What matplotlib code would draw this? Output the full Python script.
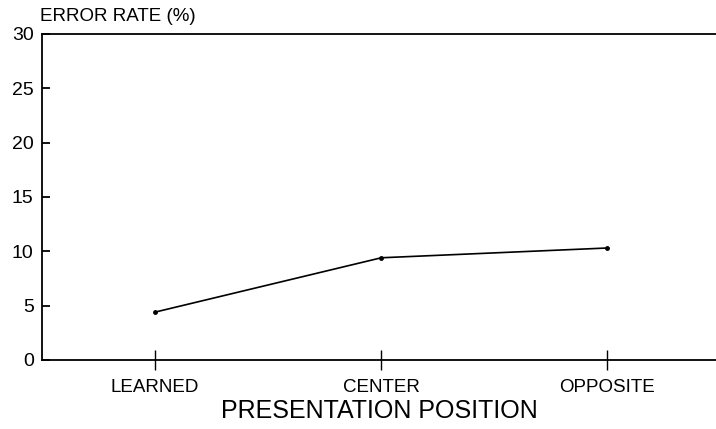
import matplotlib
matplotlib.use('Agg')
import matplotlib.pyplot as plt

# presentation positions and error rates
positions = ['LEARNED', 'CENTER', 'OPPOSITE']
error_rate = [4.4, 9.4, 10.3]
y_ticks = [0, 5, 10, 15, 20, 25, 30]

plt.rcParams['font.family'] = ['Liberation Sans', 'DejaVu Sans']

fig = plt.figure(figsize=(7.16, 4.29), dpi=100)
ax = fig.add_axes([0.0587, 0.161, 0.9413, 0.76])

x = list(range(len(positions)))
ax.plot(x, error_rate, color='black', linewidth=1.2, marker='o', markersize=2.5)

ax.set_xlim(-0.5, 2.48)
ax.set_ylim(0, 30)
ax.set_xticks(x)
ax.set_xticklabels(positions, fontsize=13.5)
ax.set_yticks(y_ticks)
ax.set_yticklabels([str(v) for v in y_ticks], fontsize=14)

ax.spines['right'].set_visible(False)
for s in ['left', 'top', 'bottom']:
    ax.spines[s].set_linewidth(1.3)
ax.tick_params(axis='y', direction='in', length=6, width=1.3, pad=6)
ax.tick_params(axis='x', direction='inout', length=14, width=1.0, pad=7)

ax.set_xlabel('PRESENTATION POSITION', fontsize=18, labelpad=2)
fig.text(0.056, 0.962, 'ERROR RATE (%)', fontsize=13.5, ha='left', va='center')

fig.savefig('out.png', dpi=100)
